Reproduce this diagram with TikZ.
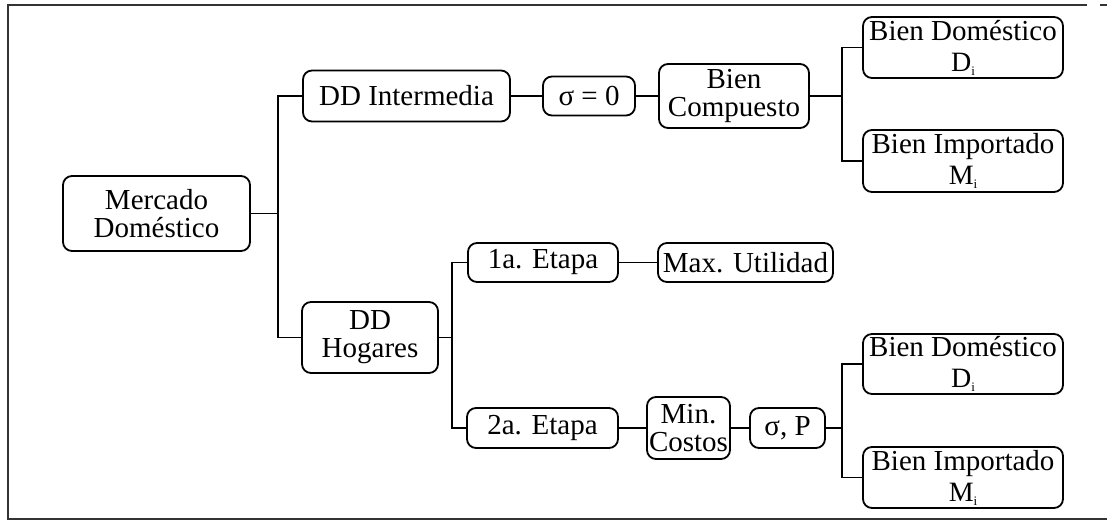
\documentclass[tikz,border=0pt]{standalone}
\usepackage{fontspec}
\setmainfont{Liberation Serif}
\usepackage{tikz}
\usetikzlibrary{positioning,calc}

\newcommand{\idx}[2]{\fontsize{28}{28}\selectfont #1\raisebox{-4pt}{\fontsize{13}{13}\selectfont #2}}

\begin{document}
\begin{tikzpicture}[x=1pt, y=-1pt,
        box/.style={draw, line width=1.8pt, rounded corners=9pt, align=center,
            inner sep=1pt, font=\fontsize{29}{28}\selectfont},
        link/.style={line width=1.8pt},
        frame/.style={line width=2pt, black!80}]
        \useasboundingbox (0,0) rectangle (1107,521);

        % outer frame
        \draw [frame] (1087,5) -- (8,5) -- (8,519) -- (1107,519);
        \draw [frame] (1100,5) -- (1107,5);

        \node [box, minimum width=187, minimum height=75] (mercado) at (156.5,213.5) {Mercado\\Doméstico};

        % Upper branch
        \node [box, minimum width=207, minimum height=51] (interm) at (406.5,96) {DD Intermedia};
        \node [box, minimum width=92, minimum height=39] (sigmacero) at (589,96) {σ = 0};
        \node [box, minimum width=150, minimum height=64] (compuesto) at (734,96) {Bien\\Compuesto};
        \node [box, minimum width=200, minimum height=61] (domA) at (963,47.5) {Bien Doméstico\\[3pt]\idx{D}{i}};
        \node [box, minimum width=200, minimum height=62] (impA) at (963,161) {Bien Importado\\[3pt]\idx{M}{i}};

        % Lower branch
        \node [box, minimum width=136, minimum height=71] (hogares) at (370,337.5) {DD\\Hogares};
        \node [box, minimum width=150, minimum height=39] (etapa1) at (543,262.5) {1a. Etapa};
        \node [box, minimum width=175, minimum height=39] (maxutil) at (745.5,262.5) {Max. Utilidad};
        \node [box, minimum width=151, minimum height=40] (etapa2) at (542.5,428) {2a. Etapa};
        \node [box, minimum width=83, minimum height=62] (mincost) at (688.5,428) {Min.\\Costos};
        \node [box, minimum width=75, minimum height=40] (sigmap) at (787.5,428) {σ, P};
        \node [box, minimum width=200, minimum height=60] (domB) at (963,364) {Bien Doméstico\\[3pt]\idx{D}{i}};
        \node [box, minimum width=200, minimum height=61] (impB) at (963,477.5) {Bien Importado\\[3pt]\idx{M}{i}};

        % junctions
        \coordinate (j1) at (278,213.5);
        \coordinate (j2) at (842,96);
        \coordinate (j3) at (452,337.5);
        \coordinate (j4) at (842,428);

        \draw [link] (mercado.east) -- (j1);
        \draw [link] (interm.west) -| (j1) |- (hogares.west);

        \draw [link] (interm.east) -- (sigmacero.west);
        \draw [link] (sigmacero.east) -- (compuesto.west);
        \draw [link] (compuesto.east) -- (j2);
        \draw [link] (domA.west) -| (j2) |- (impA.west);

        \draw [link] (hogares.east) -- (j3);
        \draw [link] (etapa1.west) -| (j3) |- (etapa2.west);
        \draw [link] (etapa1.east) -- (maxutil.west);
        \draw [link] (etapa2.east) -- (mincost.west);
        \draw [link] (mincost.east) -- (sigmap.west);
        \draw [link] (sigmap.east) -- (j4);
        \draw [link] (domB.west) -| (j4) |- (impB.west);
    \end{tikzpicture}
\end{document}
